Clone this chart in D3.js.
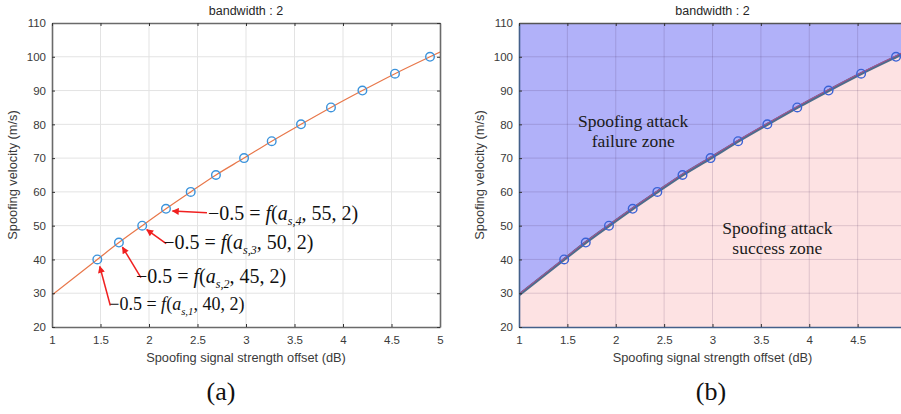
<!DOCTYPE html>
<html>
<head>
<meta charset="utf-8">
<script src="https://cdn.jsdelivr.net/npm/d3@7"></script>
<style>
  body { margin: 0; background: #fff; }
  svg { display: block; }
</style>
</head>
<body>
<svg id="chart" width="901" height="414" font-family="Liberation Sans, Arial, sans-serif"></svg>
<script>
// data
const xTicks = [1, 1.5, 2, 2.5, 3, 3.5, 4, 4.5, 5];
const yTicks = [20, 30, 40, 50, 60, 70, 80, 90, 100, 110];
const markerOffset = [1.467, 1.69, 1.93, 2.175, 2.43, 2.69, 2.98, 3.265, 3.567, 3.876, 4.2, 4.536, 4.897];
const markerVelocity = [40, 45, 50, 55, 60, 65, 70, 75, 80, 85, 90, 95, 100];
const curveOffset = [1, 1.467, 1.69, 1.93, 2.175, 2.43, 2.69, 2.98, 3.265, 3.567, 3.876, 4.2, 4.536, 4.897, 5];
const curveVelocity = [29.5, 40, 45, 50, 55, 60, 65, 70, 75, 80, 85, 90, 95, 100, 101.4];
const annotIndex = [0, 1, 2, 3];
const annotSub = ['s,1', 's,2', 's,3', 's,4'];
const annotVel = ['40', '45', '50', '55'];
const titleText = 'bandwidth : 2';
const xLabel = 'Spoofing signal strength offset (dB)';
const yLabel = 'Spoofing velocity (m/s)';
const panelNames = ['(a)', '(b)'];
const zoneFail = ['Spoofing attack', 'failure zone'];
const zoneSuccess = ['Spoofing attack', 'success zone'];

const SANS = 'Liberation Sans, Arial, sans-serif';
const SERIF = 'Liberation Serif, Times New Roman, serif';

// label layout for the annotations (pixel offsets from the marker)
const annotLayout = [
  { tx: 12, ty: 51, ax: 13, ay: 46, bx: 2.5, by: 7, size: 18 },
  { tx: 17, ty: 40, ax: 22, ay: 35, bx: 3.5, by: 4.5, size: 20 },
  { tx: 21, ty: 23, ax: 24, ay: 18, bx: 4.5, by: 4, size: 20 },
  { tx: 42, ty: 11, ax: 41, ay: 4, bx: 6.5, by: 2.3, size: 20 }
];

const svg = d3.select('#chart');
svg.append('rect').attr('width', 901).attr('height', 414).attr('fill', '#fff');

const defs = svg.append('defs');
defs.append('marker')
  .attr('id', 'arrow')
  .attr('viewBox', '0 0 10 10')
  .attr('refX', 9).attr('refY', 5)
  .attr('markerWidth', 9).attr('markerHeight', 7)
  .attr('markerUnits', 'userSpaceOnUse')
  .attr('orient', 'auto')
  .append('path')
  .attr('d', 'M0,0 L10,5 L0,10 z')
  .attr('fill', '#f02020');

const curvePts = curveOffset.map((d, i) => ({ x: d, y: curveVelocity[i] }));
const markers = markerOffset.map((d, i) => ({ x: d, y: markerVelocity[i] }));

function drawPanel(left, right, isB) {
  const top = 23, bottom = 327;
  const x = d3.scaleLinear().domain([1, 5]).range([left, right]);
  const y = d3.scaleLinear().domain([20, 110]).range([bottom, top]);
  const g = svg.append('g');

  const clipId = isB ? 'clipB' : 'clipA';
  defs.append('clipPath').attr('id', clipId)
    .append('rect').attr('x', left).attr('y', top)
    .attr('width', right - left).attr('height', bottom - top);

  const plot = g.append('g').attr('clip-path', `url(#${clipId})`);

  if (isB) {
    plot.append('path').datum(curvePts)
      .attr('d', d3.area().x(d => x(d.x)).y0(y(110)).y1(d => y(d.y)).curve(d3.curveMonotoneX))
      .attr('fill', '#b1b1f9');
    plot.append('path').datum(curvePts)
      .attr('d', d3.area().x(d => x(d.x)).y0(y(20)).y1(d => y(d.y)).curve(d3.curveMonotoneX))
      .attr('fill', '#fde2e3');
  }

  const gridColor = isB ? 'rgba(60,30,80,0.16)' : '#e3e3e3';
  plot.selectAll('.gx').data(xTicks.slice(1, -1)).join('line')
    .attr('x1', d => x(d)).attr('x2', d => x(d))
    .attr('y1', top).attr('y2', bottom)
    .attr('stroke', gridColor).attr('stroke-width', 1);
  plot.selectAll('.gy').data(yTicks.slice(1, -1)).join('line')
    .attr('x1', left).attr('x2', right)
    .attr('y1', d => y(d)).attr('y2', d => y(d))
    .attr('stroke', gridColor).attr('stroke-width', 1);

  const line = d3.line().x(d => x(d.x)).y(d => y(d.y)).curve(d3.curveMonotoneX);
  if (isB) {
    plot.append('path').datum(curvePts).attr('d', line)
      .attr('fill', 'none').attr('stroke', '#4d6c8c').attr('stroke-width', 3);
    plot.append('path').datum(curvePts).attr('d', line)
      .attr('transform', 'translate(0,-1)')
      .attr('fill', 'none').attr('stroke', '#b0508f').attr('stroke-width', 1);
  } else {
    plot.append('path').datum(curvePts).attr('d', line)
      .attr('fill', 'none').attr('stroke', '#e8774a').attr('stroke-width', 1.2);
  }

  plot.selectAll('.mk').data(markers).join('circle')
    .attr('cx', d => x(d.x)).attr('cy', d => y(d.y)).attr('r', 4.3)
    .attr('fill', 'none')
    .attr('stroke', isB ? '#3a62d6' : '#3b93dc')
    .attr('stroke-width', 1.4);

  // axes
  const axisColor = isB ? '#44608a' : '#6a6a6a';
  const xAxis = g.append('g').attr('transform', `translate(0,${bottom})`)
    .call(d3.axisBottom(x).tickValues(xTicks).tickSize(-3).tickSizeOuter(0).tickPadding(9)
      .tickFormat(d => (isB && d === 5) ? '' : d3.format('')(d)));
  const yAxis = g.append('g').attr('transform', `translate(${left},0)`)
    .call(d3.axisLeft(y).tickValues(yTicks).tickSize(-3).tickSizeOuter(0).tickPadding(6));
  const xTop = g.append('g').attr('transform', `translate(0,${top})`)
    .call(d3.axisTop(x).tickValues(xTicks).tickSize(-3).tickSizeOuter(0).tickFormat(''));
  const yRight = g.append('g').attr('transform', `translate(${right},0)`)
    .call(d3.axisRight(y).tickValues(yTicks).tickSize(-3).tickSizeOuter(0).tickFormat(''));

  [xAxis, yAxis, xTop, yRight].forEach(ax => {
    ax.attr('font-family', SANS);
    ax.select('.domain').attr('stroke', axisColor).attr('stroke-width', 1.6);
    ax.selectAll('.tick line').attr('stroke', '#333').attr('stroke-width', 1);
    ax.selectAll('.tick text').attr('fill', '#3a3a3a').attr('font-size', 11.5);
  });
  if (isB) xTop.select('.domain').attr('stroke', '#555');

  const cx = (left + right) / 2;
  g.append('text').attr('x', cx).attr('y', 15).attr('text-anchor', 'middle')
    .attr('font-family', SANS).attr('font-size', 12.5).attr('fill', '#262626').text(titleText);
  g.append('text').attr('x', cx).attr('y', 362).attr('text-anchor', 'middle')
    .attr('font-family', SANS).attr('font-size', 12.8).attr('fill', '#3a3a3a').text(xLabel);
  g.append('text')
    .attr('transform', `translate(${left - 35},${(top + bottom) / 2}) rotate(-90)`)
    .attr('text-anchor', 'middle').attr('font-family', SANS)
    .attr('font-size', 12.8).attr('fill', '#3a3a3a')
    .text(yLabel);
  g.append('text').attr('x', isB ? 711 : 221).attr('y', 400).attr('text-anchor', 'middle')
    .attr('font-family', SERIF)
    .attr('font-size', 26).attr('fill', '#111').text(panelNames[isB ? 1 : 0]);

  return { x, y, g };
}

const a = drawPanel(52, 440, false);
const b = drawPanel(519, 906, true);

// annotations on panel (a)
annotIndex.forEach((k, i) => {
  const px = a.x(markerOffset[k]), py = a.y(markerVelocity[k]);
  const o = annotLayout[i];
  a.g.append('line')
    .attr('x1', px + o.ax).attr('y1', py + o.ay)
    .attr('x2', px + o.bx).attr('y2', py + o.by)
    .attr('stroke', '#f02020').attr('stroke-width', 1.5)
    .attr('marker-end', 'url(#arrow)');
  const t = a.g.append('text')
    .attr('x', px + o.tx).attr('y', py + o.ty)
    .attr('font-family', SERIF)
    .attr('font-size', o.size).attr('fill', '#111');
  t.append('tspan').text('\u22120.5 = ');
  t.append('tspan').attr('font-style', 'italic').text('f');
  t.append('tspan').text('(');
  t.append('tspan').attr('font-style', 'italic').text('a');
  t.append('tspan').attr('font-style', 'italic').attr('font-size', o.size * 0.6)
    .attr('dy', o.size * 0.25).text(annotSub[i]);
  t.append('tspan').attr('dy', -o.size * 0.25).text(', ' + annotVel[i] + ', 2)');
});

// zone labels on panel (b)
function zone(lines, xv, yv) {
  const t = b.g.append('text')
    .attr('font-family', SERIF)
    .attr('font-size', 17.5).attr('fill', '#1a1a1a').attr('text-anchor', 'middle');
  lines.forEach((s, i) => {
    t.append('tspan').attr('x', b.x(xv)).attr('y', b.y(yv) + i * 20).text(s);
  });
}
zone(zoneFail, 2.18, 79.3);
zone(zoneSuccess, 3.67, 47.5);
</script>
</body>
</html>
